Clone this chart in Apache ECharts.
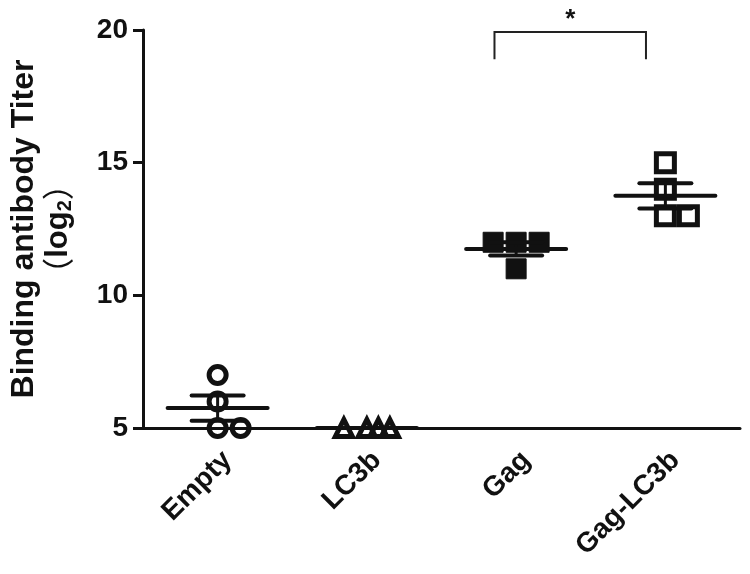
<!DOCTYPE html>
<html>
<head>
<meta charset="utf-8">
<script src="https://cdn.jsdelivr.net/npm/echarts@6/dist/echarts.min.js"></script>
<style>html,body{margin:0;padding:0;background:#fff}#c{width:750px;height:574px}</style>
</head>
<body>
<div id="c"></div>
<script>
const categories = ['Empty', 'LC3b', 'Gag', 'Gag-LC3b'];
const emptyValues = [7, 6, 5, 5];
const lc3bValues = [5, 5, 5, 5];
const gagValues = [12, 12, 12, 11];
const gagLc3bValues = [15, 14, 13, 13];
const yTicks = [5, 10, 15, 20];
const significanceLabel = '*';
const significancePair = [2, 3];

const groups = [emptyValues, lc3bValues, gagValues, gagLc3bValues];
const FONT = '"Liberation Sans", Arial, sans-serif';
const CJK = '"Noto Sans CJK SC", sans-serif';
const JITTER_STEP = 23;
const JITTER_ORDER = [0, 1, -1, 0.5, -0.5];

function stats(vals) {
  const n = vals.length;
  const m = vals.reduce((a, b) => a + b, 0) / n;
  const v = vals.reduce((a, b) => a + (b - m) * (b - m), 0) / (n - 1);
  return [m, Math.sqrt(v) / Math.sqrt(n)];
}

function scatterData(idx) {
  const seen = {};
  return groups[idx].map(v => {
    const k = seen[v] || 0;
    seen[v] = k + 1;
    return { value: [idx, v], symbolOffset: [JITTER_ORDER[k] * JITTER_STEP, 0] };
  });
}

const symbolStyles = [
  { symbol: 'circle', symbolSize: 17, itemStyle: { opacity: 1, color: 'rgba(255,255,255,0)', borderColor: '#111', borderWidth: 5 } },
  { symbol: 'triangle', symbolSize: 17, itemStyle: { opacity: 1, color: 'rgba(255,255,255,0)', borderColor: '#111', borderWidth: 5 } },
  { symbol: 'rect', symbolSize: 20, itemStyle: { opacity: 1, color: '#111', borderColor: '#111', borderWidth: 1 } },
  { symbol: 'rect', symbolSize: 18, itemStyle: { opacity: 1, color: 'rgba(255,255,255,0)', borderColor: '#111', borderWidth: 5 } }
];

const scatterSeries = categories.map((c, i) => Object.assign({
  type: 'scatter',
  name: c,
  data: scatterData(i),
  z: 2,
  silent: true
}, symbolStyles[i]));

const summaryData = groups.map((g, i) => [i].concat(stats(g)));

const summarySeries = {
  type: 'custom',
  z: 5,
  silent: true,
  clip: true,
  data: summaryData,
  renderItem: function (params, api) {
    const i = api.value(0), m = api.value(1), s = api.value(2);
    const pm = api.coord([i, m]);
    const pu = api.coord([i, m + s]);
    const pl = api.coord([i, m - s]);
    const style = { stroke: '#111', lineWidth: 4, lineCap: 'round' };
    const mw = 50, sw = 26;
    return {
      type: 'group',
      children: [
        { type: 'line', shape: { x1: pm[0], y1: pu[1], x2: pm[0], y2: pl[1] }, style: { stroke: '#111', lineWidth: 3 } },
        { type: 'line', shape: { x1: pm[0] - mw, y1: pm[1], x2: pm[0] + mw, y2: pm[1] }, style: style },
        { type: 'line', shape: { x1: pm[0] - sw, y1: pu[1], x2: pm[0] + sw, y2: pu[1] }, style: style },
        { type: 'line', shape: { x1: pm[0] - sw, y1: pl[1], x2: pm[0] + sw, y2: pl[1] }, style: style }
      ]
    };
  }
};

const bracketSeries = {
  type: 'custom',
  z: 5,
  silent: true,
  clip: false,
  data: [[significancePair[0], significancePair[1], 19.92, 18.9]],
  renderItem: function (params, api) {
    const band = api.size([1, 0])[0];
    const a = api.coord([api.value(0), api.value(2)]);
    const b = api.coord([api.value(1), api.value(2)]);
    const low = api.coord([api.value(0), api.value(3)])[1];
    const x1 = a[0] - 0.145 * band, x2 = b[0] - 0.13 * band;
    return {
      type: 'group',
      children: [
        { type: 'polyline', shape: { points: [[x1, low], [x1, a[1]], [x2, a[1]], [x2, low]] }, style: { stroke: '#222', lineWidth: 2, fill: null } },
        { type: 'text', style: { text: significanceLabel, x: (x1 + x2) / 2, y: a[1] + 1, align: 'center', verticalAlign: 'bottom', fill: '#111', font: 'bold 26px ' + FONT } }
      ]
    };
  }
};

const chart = echarts.init(document.getElementById('c'), null, { renderer: 'canvas' });
chart.setOption({
  animation: false,
  backgroundColor: '#fff',
  grid: { left: 143, right: 10, top: 30, bottom: 146, containLabel: false, outerBoundsMode: 'none' },
  xAxis: {
    type: 'category',
    data: categories,
    boundaryGap: true,
    axisLine: { lineStyle: { color: '#111', width: 3 } },
    axisTick: { alignWithLabel: true, length: 12, lineStyle: { color: '#111', width: 3 } },
    axisLabel: { rotate: 45, margin: 18, color: '#111', fontSize: 28, fontWeight: 'bold', fontFamily: FONT, interval: 0, verticalAlign: 'top' },
    splitLine: { show: false }
  },
  yAxis: {
    type: 'value',
    min: yTicks[0],
    max: yTicks[yTicks.length - 1],
    interval: yTicks[1] - yTicks[0],
    axisLine: { show: true, lineStyle: { color: '#111', width: 3 } },
    axisTick: { show: true, length: 10, lineStyle: { color: '#111', width: 3 } },
    axisLabel: { margin: 15, color: '#111', fontSize: 28, fontWeight: 'bold', fontFamily: FONT },
    splitLine: { show: false },
    name: '{a|Binding antibody Titer}\n{p|（}{b|log}{s|2}{p|）}',
    nameLocation: 'middle',
    nameRotate: 90,
    nameGap: 68,
    nameTextStyle: {
      color: '#111',
      rich: {
        a: { fontSize: 32, fontWeight: 'bold', fontFamily: FONT, lineHeight: 34, color: '#111' },
        p: { fontSize: 32, fontWeight: 'normal', fontFamily: CJK, lineHeight: 34, color: '#111' },
        b: { fontSize: 31, fontWeight: 'bold', fontFamily: FONT, lineHeight: 34, color: '#111' },
        s: { fontSize: 20, fontWeight: 'bold', fontFamily: FONT, lineHeight: 34, padding: [14, 0, 0, 0], color: '#111' }
      }
    }
  },
  series: scatterSeries.concat([summarySeries, bracketSeries])
});
</script>
</body>
</html>
